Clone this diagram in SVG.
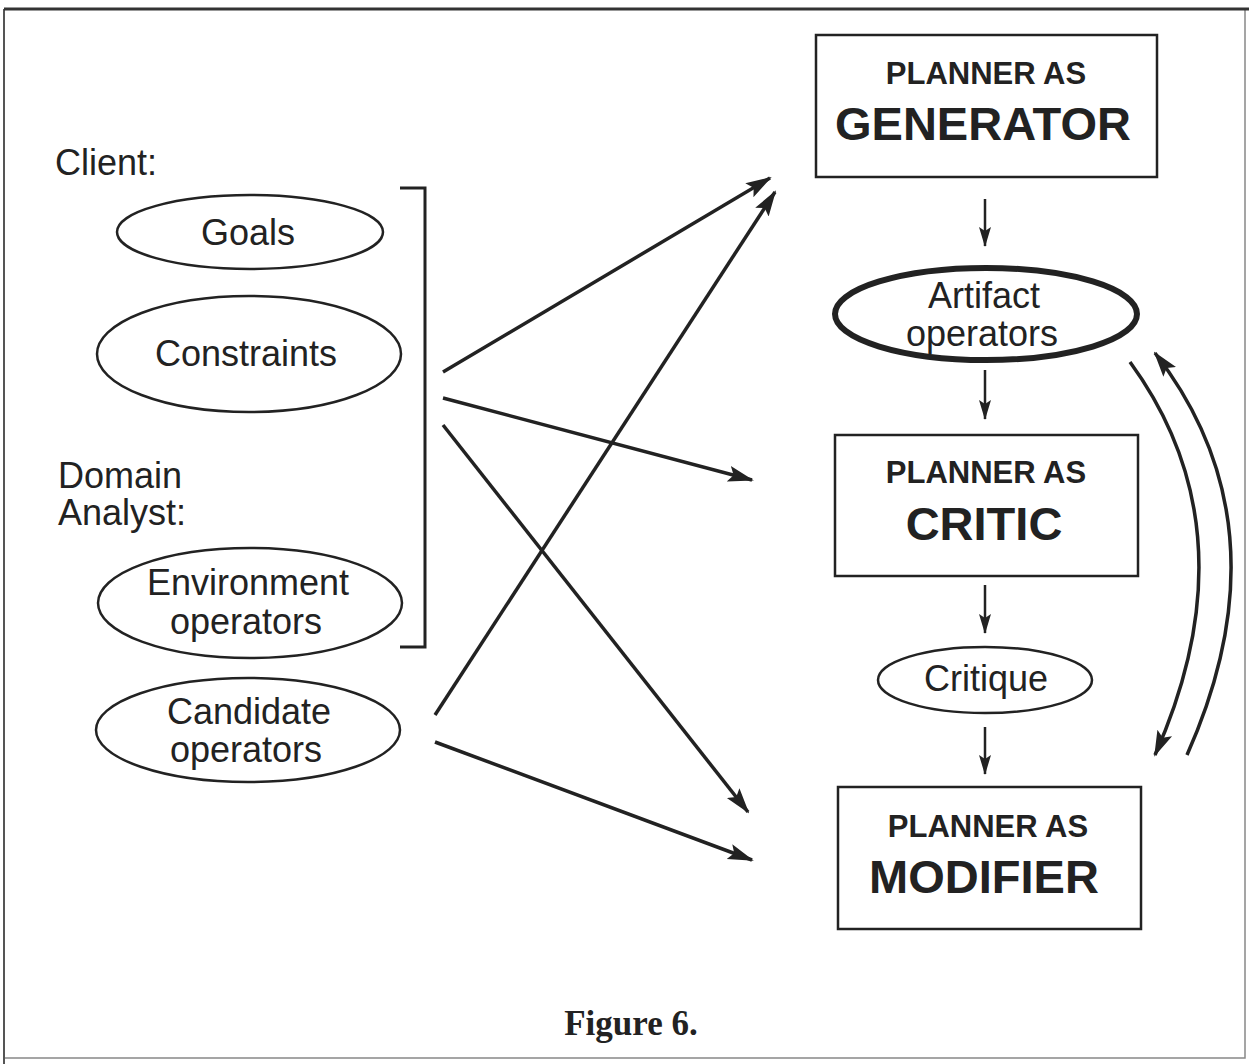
<svg xmlns="http://www.w3.org/2000/svg" width="1249" height="1064" viewBox="0 0 1249 1064">
  <style>
    .box { fill: none; stroke: #222; stroke-width: 2.5; }
    .oval { fill: none; stroke: #222; stroke-width: 2.5; }
    .thick { fill: none; stroke: #222; stroke-width: 6; }
    .lbl { font-family: "Liberation Sans", Arial, sans-serif; font-size: 36px; fill: #222; }
    .mid { text-anchor: middle; }
    .small { font-family: "Liberation Sans", Arial, sans-serif; font-weight: bold; font-size: 31px; fill: #222; text-anchor: middle; }
    .big { font-family: "Liberation Sans", Arial, sans-serif; font-weight: bold; font-size: 47px; fill: #222; text-anchor: middle; }
    .edge { fill: none; stroke: #222; stroke-width: 3.5; marker-end: url(#head); }
    .step { fill: none; stroke: #222; stroke-width: 2.5; marker-end: url(#tip); }
    .cap { font-family: "Liberation Serif", "Times New Roman", serif; font-weight: bold; font-size: 35px; fill: #222; text-anchor: middle; }
  </style>
  <defs>
    <marker id="head" markerUnits="userSpaceOnUse" markerWidth="26" markerHeight="20" viewBox="0 0 26 20" refX="24" refY="10" orient="auto">
      <path d="M0,2 L26,10 L0,18 L5,10 Z" fill="#222"/>
    </marker>
    <marker id="tip" markerUnits="userSpaceOnUse" markerWidth="20" markerHeight="16" viewBox="0 0 20 16" refX="19" refY="8" orient="auto">
      <path d="M0,2 L20,8 L0,14 L4,8 Z" fill="#222"/>
    </marker>
  </defs>

  <rect width="1249" height="1064" fill="#fff"/>
  <!-- page frame -->
  <path d="M4,9 V1058 H1245 V9" fill="none" stroke="#888" stroke-width="1.5"/>
  <line x1="4" y1="9" x2="4" y2="1064" stroke="#555" stroke-width="2"/>
  <line x1="4" y1="9" x2="1249" y2="9" stroke="#333" stroke-width="3"/>

  <!-- left-hand labels -->
  <text class="lbl" x="55" y="175">Client:</text>
  <text class="lbl" x="58" y="488">Domain</text>
  <text class="lbl" x="58" y="525">Analyst:</text>

  <g id="goals">
    <ellipse class="oval" cx="250" cy="232" rx="133" ry="37"/>
    <text class="lbl mid" x="248" y="245">Goals</text>
  </g>
  <g id="constraints">
    <ellipse class="oval" cx="249" cy="354" rx="152" ry="58"/>
    <text class="lbl mid" x="246" y="366">Constraints</text>
  </g>
  <g id="environment">
    <ellipse class="oval" cx="250" cy="603" rx="152" ry="55"/>
    <text class="lbl mid" x="248" y="595">Environment</text>
    <text class="lbl mid" x="246" y="634">operators</text>
  </g>
  <g id="candidate">
    <ellipse class="oval" cx="248" cy="730" rx="152" ry="52"/>
    <text class="lbl mid" x="249" y="724">Candidate</text>
    <text class="lbl mid" x="246" y="762">operators</text>
  </g>

  <!-- bracket grouping client and domain inputs -->
  <path id="bracket" d="M400,188 H425 V647 H400" fill="none" stroke="#222" stroke-width="3"/>

  <g id="generator">
    <rect class="box" x="816" y="35" width="341" height="142"/>
    <text class="small" x="986" y="84">PLANNER AS</text>
    <text class="big" x="983" y="140">GENERATOR</text>
  </g>
  <g id="artifact">
    <ellipse class="thick" cx="986" cy="314" rx="151" ry="46"/>
    <text class="lbl mid" x="984" y="308">Artifact</text>
    <text class="lbl mid" x="982" y="346">operators</text>
  </g>
  <g id="critic">
    <rect class="box" x="835" y="435" width="303" height="141"/>
    <text class="small" x="986" y="483">PLANNER AS</text>
    <text class="big" x="984" y="540">CRITIC</text>
  </g>
  <g id="critique">
    <ellipse class="oval" cx="985" cy="680" rx="107" ry="33"/>
    <text class="lbl mid" x="986" y="691">Critique</text>
  </g>
  <g id="modifier">
    <rect class="box" x="838" y="787" width="303" height="142"/>
    <text class="small" x="988" y="837">PLANNER AS</text>
    <text class="big" x="984" y="893">MODIFIER</text>
  </g>

  <g id="connectors">
    <line class="step" x1="985" y1="199" x2="985" y2="246"/>
    <line class="step" x1="985" y1="370" x2="985" y2="419"/>
    <line class="step" x1="985" y1="585" x2="985" y2="633"/>
    <line class="step" x1="985" y1="727" x2="985" y2="774"/>

    <path class="edge" d="M1130,362 Q1254,532 1155,755"/>
    <path class="edge" d="M1187,755 Q1289,526 1155,353"/>

    <line class="edge" x1="443" y1="372" x2="770" y2="178"/>
    <line class="edge" x1="443" y1="398" x2="752" y2="480"/>
    <line class="edge" x1="443" y1="425" x2="748" y2="812"/>
    <line class="edge" x1="435" y1="715" x2="775" y2="192"/>
    <line class="edge" x1="435" y1="742" x2="752" y2="860"/>
  </g>

  <text class="cap" x="631" y="1035">Figure 6.</text>
</svg>
